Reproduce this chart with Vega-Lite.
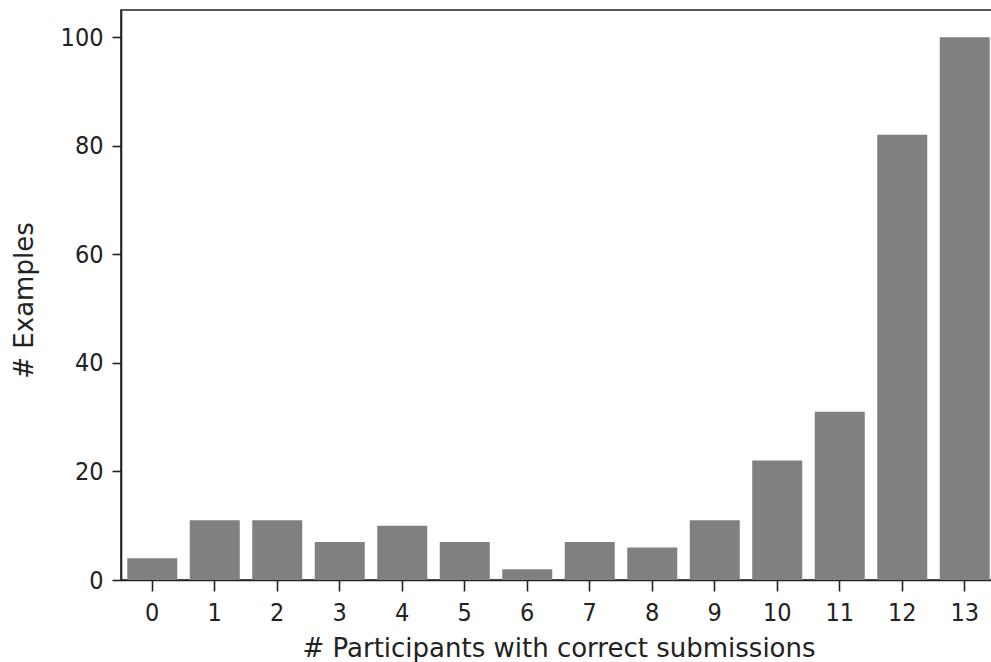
{
  "$schema": "https://vega.github.io/schema/vega-lite/v6.json",
  "width": 875,
  "height": 570,
  "autosize": {"type": "none"},
  "padding": {"left": 121, "top": 10, "right": 0, "bottom": 82},
  "background": "white",
  "config": {
    "view": {"stroke": "#222222", "strokeWidth": 1.6},
    "font": "DejaVu Sans Condensed",
    "axis": {
      "labelFont": "DejaVu Sans Condensed",
      "titleFont": "DejaVu Sans",
      "labelFontSize": 25,
      "titleFontSize": 26,
      "labelColor": "#222222",
      "titleColor": "#222222",
      "titleFontWeight": "normal",
      "domainColor": "#222222",
      "domainWidth": 1.6,
      "tickColor": "#222222",
      "tickWidth": 1.6,
      "grid": false
    }
  },
  "data": {
    "values": [
      {"n": 0, "count": 4},
      {"n": 1, "count": 11},
      {"n": 2, "count": 11},
      {"n": 3, "count": 7},
      {"n": 4, "count": 10},
      {"n": 5, "count": 7},
      {"n": 6, "count": 2},
      {"n": 7, "count": 7},
      {"n": 8, "count": 6},
      {"n": 9, "count": 11},
      {"n": 10, "count": 22},
      {"n": 11, "count": 31},
      {"n": 12, "count": 82},
      {"n": 13, "count": 100}
    ]
  },
  "mark": {"type": "bar", "color": "#808080"},
  "encoding": {
    "x": {
      "field": "n",
      "type": "ordinal",
      "scale": {"paddingInner": 0.2, "paddingOuter": 0.1},
      "axis": {"title": "# Participants with correct submissions", "labelAngle": 0, "tickSize": 11, "labelPadding": 9, "titlePadding": 10}
    },
    "y": {
      "field": "count",
      "type": "quantitative",
      "scale": {"domain": [0, 105], "nice": false},
      "axis": {"title": "# Examples", "values": [0, 20, 40, 60, 80, 100], "tickSize": 9, "labelPadding": 9, "titlePadding": 23, "titleY": 290}
    }
  }
}
